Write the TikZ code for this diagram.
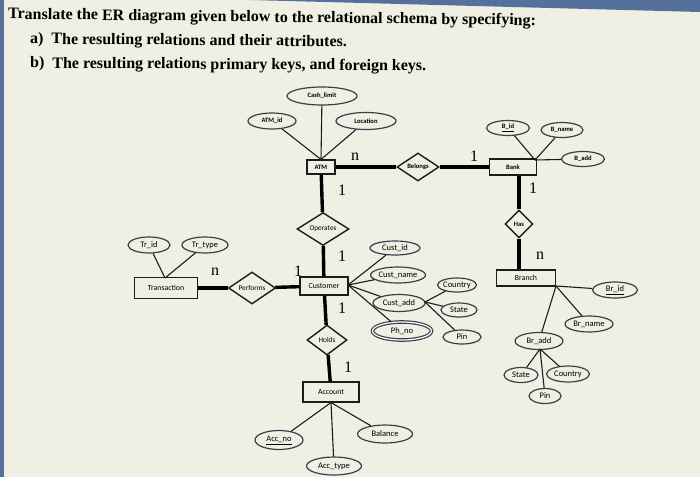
\documentclass[tikz,border=0pt]{standalone}
\usepackage{fontspec}
\setmainfont{Liberation Serif}
\newfontfamily\erfont{Carlito}
\usetikzlibrary{shapes.geometric,positioning}
\definecolor{screen}{RGB}{239,239,228}
\definecolor{bezel}{RGB}{86,112,156}
\definecolor{ink}{RGB}{28,28,30}
\definecolor{oval}{RGB}{58,62,74}

\begin{document}
\begin{tikzpicture}[x=1pt, y=-1pt, inner sep=0pt]
	\tikzstyle{ent} = [rectangle, draw = ink, line width = 1.1pt, font = \erfont\fontsize{7.8}{8}\selectfont]
	\tikzstyle{attr} = [ellipse, draw = oval, line width = 1.2pt, font = \erfont\fontsize{8.5}{9}\selectfont]
	\tikzstyle{rel} = [diamond, draw = ink, line width = 1.4pt, font = \erfont\fontsize{7.3}{8}\selectfont]
	\tikzstyle{far} = [font = \erfont\bfseries\fontsize{6.6}{7}\selectfont]
	\tikzstyle{link} = [draw = ink, line width = 1.1pt]
	\tikzstyle{heavy} = [draw = black, line width = 3.4pt]
	\tikzstyle{card} = [font = \fontsize{16}{16}\selectfont]
	\tikzstyle{title} = [anchor = west, font = \bfseries\fontsize{16}{18}\selectfont]
	% screen
	\fill [screen] (0,0) rectangle (700,477);
	\useasboundingbox (0,0) rectangle (700,477);
	\fill [bezel] (0,0) rectangle (4,477);
	\fill [bezel] (250,0) -- (700,0) -- (700,12) -- cycle;
	% question
	\node [title, rotate = -0.7] (q1) at (8,15) {Translate the ER diagram given below to the relational schema by specifying:};
	\node [title, rotate = -0.5] (q2) at (30,40) {a)\enspace The resulting relations and their attributes.};
	\node [title, rotate = -0.4] (q3) at (30,64) {b)\enspace The resulting relations primary keys, and foreign keys.};
	% ATM and Bank
	\node [attr, far, minimum width = 70, minimum height = 18] (cashlim) at (322,96) {Cash\_limit};
	\node [attr, far, minimum width = 48, minimum height = 16] (atmid) at (272,121) {ATM\_id};
	\node [attr, far, minimum width = 60, minimum height = 17] (loc) at (366,121) {Location};
	\node [ent, far, minimum width = 28, minimum height = 14] (atm) at (321,167) {ATM};
	\node [rel, far, minimum width = 42, minimum height = 28] (belongs) at (418,167) {Belongs};
	\node [ent, far, minimum width = 47, minimum height = 16] (bank) at (513,167) {Bank};
	\node [attr, far, minimum width = 43, minimum height = 15] (bid) at (508,128) {\underline{B\_id}};
	\node [attr, far, minimum width = 42, minimum height = 15] (bname) at (562,130) {B\_name};
	\node [attr, far, minimum width = 43, minimum height = 15] (badd) at (583,159) {B\_add};
	\coordinate (bankfan) at (535,160);
	\node [rel, far, minimum width = 28, minimum height = 28] (has) at (519,224) {Has};
	% Branch
	\node [ent, minimum width = 59, minimum height = 16] (branch) at (526,278) {Branch};
	\coordinate (branchfan) at (556,286);
	\node [attr, minimum width = 45, minimum height = 16] (brid) at (615,290) {\underline{Br\_id}};
	\node [attr, minimum width = 48, minimum height = 16] (brname) at (589,324) {Br\_name};
	\node [attr, minimum width = 48, minimum height = 17] (bradd) at (539,341) {Br\_add};
	\coordinate (braddfan) at (540,349);
	\node [attr, minimum width = 34, minimum height = 15] (bstate) at (521,375) {State};
	\node [attr, minimum width = 43, minimum height = 16] (bcountry) at (568,374) {Country};
	\node [attr, minimum width = 32, minimum height = 15] (bpin) at (545,396) {Pin};
	% Customer
	\node [rel, minimum width = 52, minimum height = 24] (operates) at (323,229) {Operates};
	\node [ent, minimum width = 48, minimum height = 18] (cust) at (324,286) {Customer};
	\coordinate (custfan) at (348,285);
	\node [attr, minimum width = 50, minimum height = 14] (custid) at (395,248) {Cust\_id};
	\node [attr, minimum width = 53, minimum height = 16] (custname) at (398,275) {Cust\_name};
	\node [attr, minimum width = 52, minimum height = 17] (custadd) at (399,303) {Cust\_add};
	\node [attr, double, double distance = 1.2pt, minimum width = 59, minimum height = 18] (phno) at (402,331) {Ph\_no};
	\coordinate (addfan) at (425,302);
	\node [attr, minimum width = 39, minimum height = 14] (ccountry) at (457,285) {Country};
	\node [attr, minimum width = 36, minimum height = 14] (cstate) at (459,310) {State};
	\node [attr, minimum width = 38, minimum height = 14] (cpin) at (462,337) {Pin};
	% Transaction
	\node [ent, minimum width = 63, minimum height = 21] (trans) at (166,288) {Transaction};
	\coordinate (transfan) at (165,278);
	\node [attr, minimum width = 42, minimum height = 16] (trid) at (149,245) {Tr\_id};
	\node [attr, minimum width = 46, minimum height = 16] (trtype) at (205,245) {Tr\_type};
	\node [rel, minimum width = 47, minimum height = 31] (performs) at (252,288) {Performs};
	% Account
	\node [rel, minimum width = 40, minimum height = 30] (holds) at (327,340) {Holds};
	\node [ent, minimum width = 56, minimum height = 20] (acct) at (331,392) {Account};
	\node [attr, minimum width = 48, minimum height = 19] (accno) at (279,440) {\underline{Acc\_no}};
	\node [attr, minimum width = 55, minimum height = 18] (acctype) at (334,466) {Acc\_type};
	\node [attr, minimum width = 55, minimum height = 18] (balance) at (385,434) {Balance};
	% relationships
	\draw [heavy] (atm) -- (belongs);
	\draw [heavy] (belongs) -- (bank);
	\draw [heavy] (atm) -- (operates);
	\draw [heavy] (operates) -- (cust);
	\draw [heavy] (cust) -- (holds);
	\draw [heavy] (holds) -- (acct);
	\draw [heavy] (has.north) -- (has.north |- bank.south);
	\draw [heavy] (has.south) -- (has.south |- branch.north);
	\draw [heavy] (trans) -- (performs);
	\draw [heavy] (performs) -- (cust);
	% attributes
	\draw [link] (atm.north) -- (cashlim);
	\draw [link] (atm.north) -- (atmid);
	\draw [link] (atm.north) -- (loc);
	\draw [link] (bankfan) -- (bid);
	\draw [link] (bankfan) -- (bname);
	\draw [link] (bankfan) -- (badd);
	\draw [link] (branchfan) -- (brid);
	\draw [link] (branchfan) -- (brname);
	\draw [link] (branchfan) -- (bradd);
	\draw [link] (braddfan) -- (bstate);
	\draw [link] (braddfan) -- (bcountry);
	\draw [link] (braddfan) -- (bpin);
	\draw [link] (custfan) -- (custid);
	\draw [link] (custfan) -- (custname);
	\draw [link] (custfan) -- (custadd);
	\draw [link] (custfan) -- (phno);
	\draw [link] (addfan) -- (ccountry);
	\draw [link] (addfan) -- (cstate);
	\draw [link] (addfan) -- (cpin);
	\draw [link] (transfan) -- (trid);
	\draw [link] (transfan) -- (trtype);
	\draw [link] (acct.south) -- (accno);
	\draw [link] (acct.south) -- (acctype);
	\draw [link] (acct.south) -- (balance);
	% cardinalities
	\node [card] (c1) at (355,157) {n};
	\node [card] (c2) at (342,190) {1};
	\node [card] (c3) at (474,156) {1};
	\node [card] (c4) at (533,188) {1};
	\node [card] (c5) at (540,256) {n};
	\node [card] (c6) at (342,256) {1};
	\node [card] (c7) at (298,271) {1};
	\node [card] (c8) at (215,272) {n};
	\node [card] (c9) at (342,308) {1};
	\node [card] (c10) at (348,367) {1};
\end{tikzpicture}
\end{document}
